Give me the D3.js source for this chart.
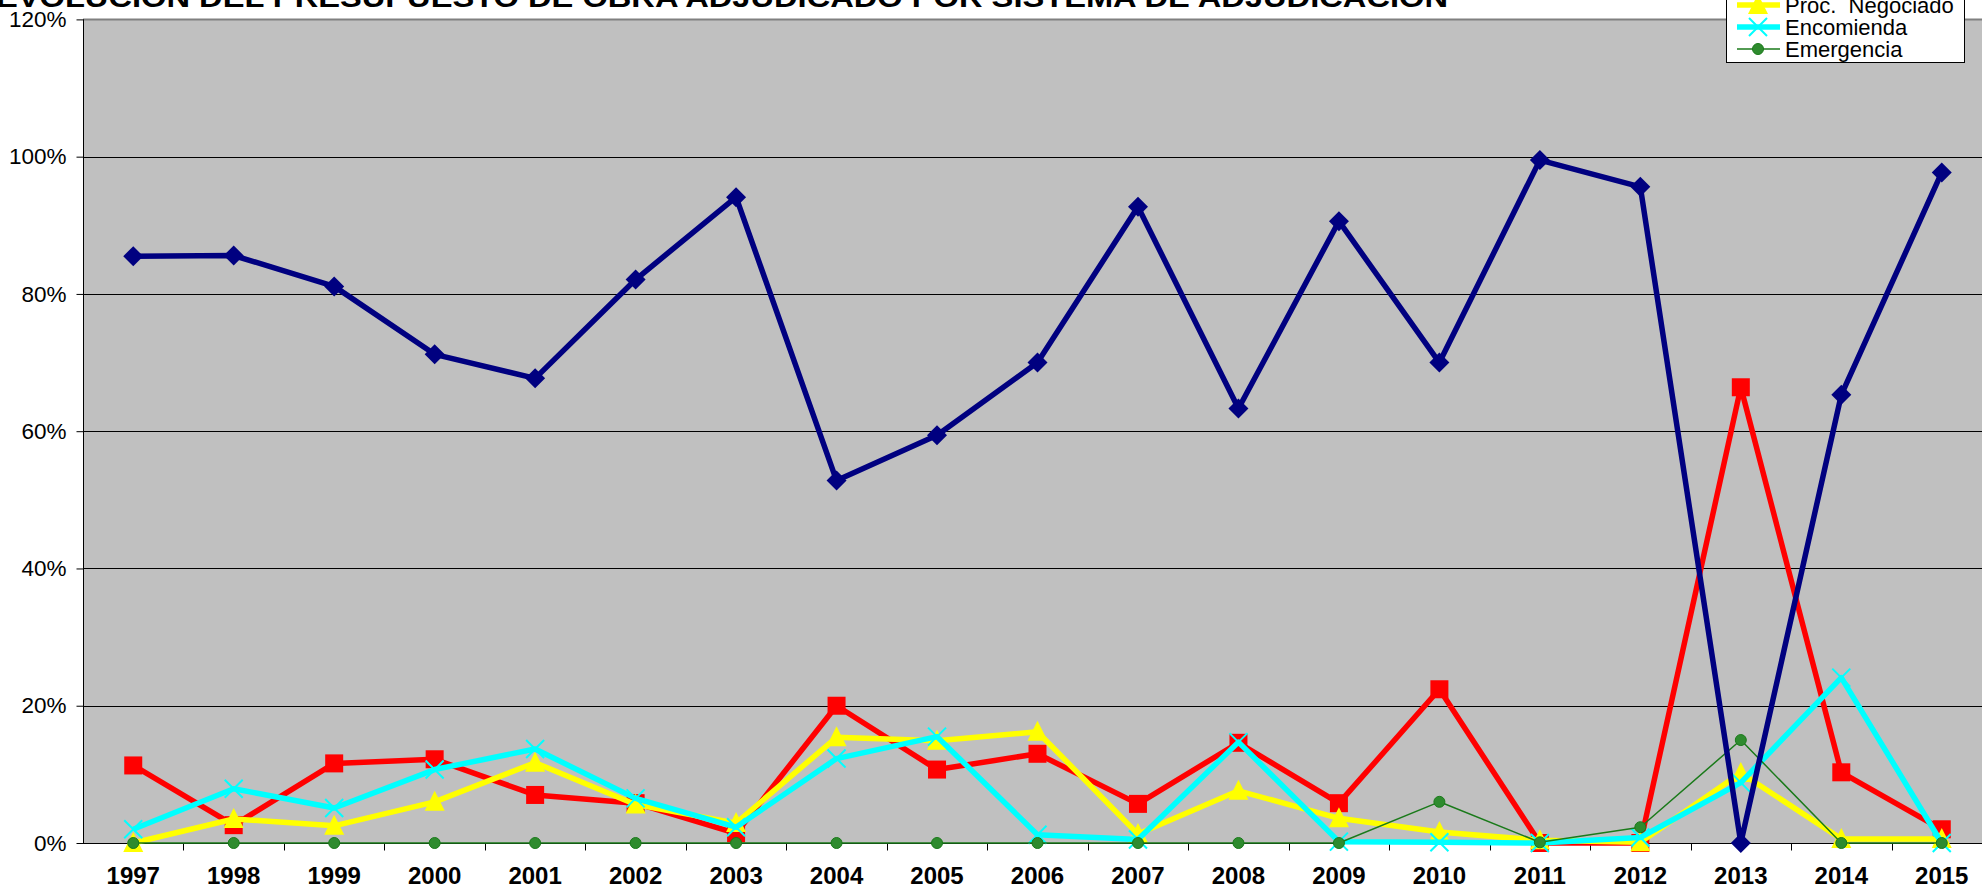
<!DOCTYPE html>
<html>
<head>
<meta charset="utf-8">
<script src="https://cdn.jsdelivr.net/npm/d3@7"></script>
<style>
  body { margin: 0; background: #fff; }
  svg { display: block; font-family: "Liberation Sans", Arial, sans-serif; }
</style>
</head>
<body>
<svg id="chart" width="1982" height="888"></svg>
<script>
// data (share of budget, %)
var years = ["1997","1998","1999","2000","2001","2002","2003","2004","2005","2006","2007","2008","2009","2010","2011","2012","2013","2014","2015"]
var concurso   = [85.5, 85.6, 81.1, 71.2, 67.7, 82.1, 94.1, 52.8, 59.4, 70.0, 92.7, 63.3, 90.6, 70.0, 99.5, 95.6, 0.0, 65.3, 97.7]
var subasta    = [11.3, 2.6, 11.6, 12.2, 7.0, 5.8, 1.4, 20.0, 10.7, 13.0, 5.7, 14.6, 5.8, 22.4, 0.0, 0.0, 66.4, 10.3, 2.0]
var negociado  = [0.0, 3.5, 2.5, 6.0, 11.7, 5.6, 2.9, 15.4, 14.9, 16.2, 1.3, 7.6, 3.6, 1.6, 0.4, 0.1, 10.2, 0.6, 0.6]
var encomienda = [2.0, 7.9, 5.1, 10.7, 13.7, 6.5, 2.3, 12.3, 15.5, 1.2, 0.5, 14.7, 0.2, 0.1, 0.0, 0.8, 8.8, 24.1, 0.0]
var emergencia = [0, 0, 0, 0, 0, 0, 0, 0, 0, 0, 0, 0, 0, 6.0, 0.1, 2.3, 15.0, 0, 0]
var yTicks = [0, 20, 40, 60, 80, 100, 120]
var title = "EVOLUCIÓN DEL PRESUPUESTO DE OBRA ADJUDICADO POR SISTEMA DE ADJUDICACIÓN"

var series = [
  {name: "Concurso", values: concurso, color: "#000080", width: 5.5, marker: "diamond"},
  {name: "Subasta", values: subasta, color: "#ff0000", width: 5.5, marker: "square"},
  {name: "Proc.  Negociado", values: negociado, color: "#ffff00", width: 5.5, marker: "triangle"},
  {name: "Encomienda", values: encomienda, color: "#00ffff", width: 5.5, marker: "cross"},
  {name: "Emergencia", values: emergencia, color: "#1a7a1a", width: 1.5, marker: "circle", fill: "#2e8b2e"}
]

var svg = d3.select("#chart")
var plotLeft = 83, plotRight = 1992, plotTop = 19.4, plotBottom = 843

var x = d3.scaleBand().domain(years).range([plotLeft, plotRight]).padding(0)
var y = d3.scaleLinear().domain([0, 120]).range([plotBottom, plotTop])
var cx = d => x(d) + x.bandwidth() / 2

// plot area
svg.append("rect")
  .attr("x", plotLeft).attr("y", plotTop)
  .attr("width", plotRight - plotLeft).attr("height", plotBottom - plotTop)
  .attr("fill", "#c0c0c0")
svg.append("line")
  .attr("x1", plotLeft).attr("x2", plotRight).attr("y1", plotTop).attr("y2", plotTop)
  .attr("stroke", "#808080").attr("stroke-width", 2)

// gridlines
svg.append("g").selectAll("line")
  .data(yTicks.filter(t => t > 0 && t < 120))
  .join("line")
  .attr("x1", plotLeft).attr("x2", plotRight)
  .attr("y1", d => Math.round(y(d)) + 0.5).attr("y2", d => Math.round(y(d)) + 0.5)
  .attr("stroke", "#000").attr("stroke-width", 1)

// y axis
var yAxis = d3.axisLeft(y).tickValues(yTicks).tickSize(7).tickFormat(d => d + "%")
var gy = svg.append("g").attr("transform", "translate(" + (plotLeft + 0.5) + ",0)").call(yAxis)
gy.select(".domain").attr("stroke", "#000").attr("d", "M0," + plotTop + "V" + plotBottom)
gy.selectAll(".tick line").attr("stroke", "#000")
gy.selectAll(".tick text")
  .attr("x", -17).attr("font-size", 22.5).attr("fill", "#000")
  .attr("font-family", "Liberation Sans, Arial, sans-serif")

// x axis (ticks between categories)
var gx = svg.append("g").attr("transform", "translate(0," + (plotBottom + 0.5) + ")")
gx.append("line").attr("x1", plotLeft).attr("x2", plotRight).attr("stroke", "#000")
gx.selectAll(".tk").data(years.slice(1))
  .join("line").attr("class", "tk")
  .attr("x1", d => Math.round(x(d)) + 0.5).attr("x2", d => Math.round(x(d)) + 0.5)
  .attr("y1", 0).attr("y2", 7).attr("stroke", "#000")
gx.selectAll("text").data(years)
  .join("text")
  .attr("x", cx).attr("y", 40)
  .attr("text-anchor", "middle")
  .attr("font-size", 24).attr("font-weight", "bold")
  .text(d => d)

// markers
function drawMarker(g, type, color, fill) {
  if (type == "diamond") {
    g.append("path").attr("d", "M0,-10L10,0L0,10L-10,0Z").attr("fill", color)
  } else if (type == "square") {
    g.append("rect").attr("x", -9).attr("y", -9).attr("width", 18).attr("height", 18).attr("fill", color)
  } else if (type == "triangle") {
    g.append("path").attr("d", "M0,-11L10,9L-10,9Z").attr("fill", color)
  } else if (type == "cross") {
    g.append("path").attr("d", "M-9,-9L9,9M-9,9L9,-9").attr("stroke", color).attr("stroke-width", 2)
  } else if (type == "circle") {
    g.append("circle").attr("r", 5.5).attr("fill", fill).attr("stroke", color).attr("stroke-width", 1)
  }
}

var line = d3.line().x((d, i) => cx(years[i])).y(d => y(d))

// draw order: navy on top
var order = [1, 2, 3, 4, 0]
order.forEach(function(k) {
  var s = series[k]
  var g = svg.append("g")
  g.append("path")
    .attr("d", line(s.values))
    .attr("fill", "none")
    .attr("stroke", s.color)
    .attr("stroke-width", s.width)
    .attr("stroke-linejoin", "round")
  s.values.forEach(function(v, i) {
    var m = g.append("g").attr("transform", "translate(" + cx(years[i]) + "," + y(v) + ")")
    drawMarker(m, s.marker, s.color, s.fill)
  })
})

// title (partly above the page)
svg.append("text")
  .attr("x", -4).attr("y", 7)
  .attr("font-size", 27).attr("font-weight", "bold")
  .attr("textLength", 1452).attr("lengthAdjust", "spacingAndGlyphs")
  .text(title)

// legend (top part is cut off)
var lg = svg.append("g").attr("transform", "translate(1726,0)")
var rowH = 22
var firstY = 5 - 2 * rowH
lg.append("rect")
  .attr("x", 0.5).attr("y", firstY - 14)
  .attr("width", 238).attr("height", 63 - (firstY - 14) - 0.5)
  .attr("fill", "#fff").attr("stroke", "#000").attr("stroke-width", 1)
series.forEach(function(s, i) {
  var yy = firstY + i * rowH
  lg.append("line")
    .attr("x1", 11).attr("x2", 54).attr("y1", yy).attr("y2", yy)
    .attr("stroke", s.color).attr("stroke-width", s.width)
  var m = lg.append("g").attr("transform", "translate(32," + yy + ")")
  drawMarker(m, s.marker, s.color, s.fill)
  lg.append("text")
    .attr("x", 59).attr("y", yy + 8)
    .attr("font-size", 22)
    .style("white-space", "pre")
    .text(s.name)
})
</script>
</body>
</html>
